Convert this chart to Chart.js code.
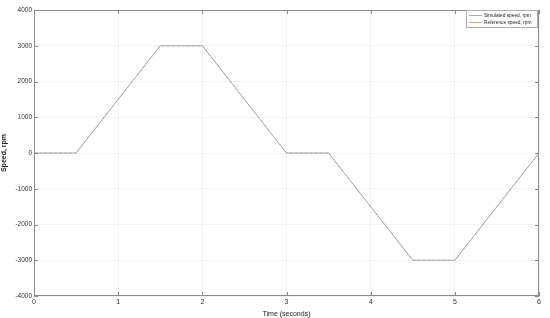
<!DOCTYPE html>
<html>
<head>
<meta charset="utf-8">
<script src="https://cdn.jsdelivr.net/npm/chart.js@4.4.0/dist/chart.umd.min.js"></script>
<style>
  html, body { margin: 0; padding: 0; background: #fff; }
  #wrap { width: 550px; height: 318px; position: relative; }
</style>
</head>
<body>
<div id="wrap"><canvas id="speedChart"></canvas></div>
<script>
// Speed profile, time in seconds vs rpm
const timeSec = [0, 0.5, 1.5, 2.0, 3.0, 3.5, 4.5, 5.0, 6.0];
const simulatedRpm = [0, 0, 3000, 3000, 0, 0, -3000, -3000, 0];
const referenceRpm = [0, 0, 3000, 3000, 0, 0, -3000, -3000, 0];
const seriesLabels = ['Simulated speed, rpm', 'Reference speed, rpm'];

const toPoints = (xs, ys) => xs.map((x, i) => ({ x: x, y: ys[i] }));

// box round the plot + little inward ticks, matlab style
const frame = {
    id: 'frame',
    afterDraw(chart) {
        const { ctx, chartArea: a, scales } = chart;
        ctx.save();
        ctx.strokeStyle = '#8a8a8a';
        ctx.lineWidth = 1;
        ctx.strokeRect(a.left + 0.5, a.top + 0.5, a.right - a.left - 1, a.bottom - a.top - 1);
        ctx.beginPath();
        scales.x.ticks.forEach(t => {
            const px = Math.round(scales.x.getPixelForValue(t.value)) + 0.5;
            ctx.moveTo(px, a.bottom); ctx.lineTo(px, a.bottom - 4);
            ctx.moveTo(px, a.top); ctx.lineTo(px, a.top + 4);
        });
        scales.y.ticks.forEach(t => {
            const py = Math.round(scales.y.getPixelForValue(t.value)) + 0.5;
            ctx.moveTo(a.left, py); ctx.lineTo(a.left + 4, py);
            ctx.moveTo(a.right, py); ctx.lineTo(a.right - 4, py);
        });
        ctx.stroke();

        // legend box in the top right corner
        const bx = 466, by = 10, bw = 71, bh = 17;
        ctx.fillStyle = '#fff';
        ctx.fillRect(bx, by, bw, bh);
        ctx.strokeStyle = '#b0b0b0';
        ctx.strokeRect(bx + 0.5, by + 0.5, bw, bh);
        ctx.font = '4.8px "Liberation Sans", Arial, sans-serif';
        ctx.textBaseline = 'middle';
        chart.data.datasets.forEach((ds, i) => {
            const ly = by + 5 + i * 7;
            ctx.strokeStyle = ds.borderColor;
            ctx.beginPath();
            ctx.moveTo(bx + 3, ly + 0.5); ctx.lineTo(bx + 16, ly + 0.5);
            ctx.stroke();
            ctx.fillStyle = '#222';
            ctx.fillText(ds.label, bx + 18, ly + 0.5);
        });
        ctx.restore();
    }
};

const ctx = document.getElementById('speedChart').getContext('2d');
const speedChart = new Chart(ctx, {
    type: 'scatter',
    data: {
        datasets: [
            {
                label: seriesLabels[0],
                data: toPoints(timeSec, simulatedRpm),
                showLine: true,
                borderColor: '#a4abc2',
                borderWidth: 1,
                pointRadius: 0,
            },
            {
                label: seriesLabels[1],
                data: toPoints(timeSec, referenceRpm),
                showLine: true,
                borderColor: '#c4b292',
                borderWidth: 1,
                borderDash: [3, 2],
                pointRadius: 0,
            }
        ]
    },
    options: {
        responsive: true,
        maintainAspectRatio: false,
        animation: false,
        layout: { padding: { top: 10, right: 11, left: 0, bottom: 0 } },
        plugins: {
            legend: { display: false },
            tooltip: { enabled: false }
        },
        scales: {
            x: {
                type: 'linear',
                min: 0,
                max: 6,
                afterFit: s => { s.height = 22; },
                ticks: {
                    stepSize: 1,
                    color: '#333',
                    padding: 2,
                    callback: v => String(v),
                    font: { size: 7, family: '"Liberation Sans", Arial, sans-serif' }
                },
                grid: { color: '#f2f2f2', drawTicks: false },
                border: { display: false },
                title: {
                    display: true,
                    text: 'Time (seconds)',
                    color: '#222',
                    padding: { top: 1, bottom: 0 },
                    font: { size: 7, family: '"Liberation Sans", Arial, sans-serif' }
                }
            },
            y: {
                type: 'linear',
                min: -4000,
                max: 4000,
                afterFit: s => { s.width = 34; },
                ticks: {
                    stepSize: 1000,
                    color: '#333',
                    padding: 2,
                    callback: v => String(v),
                    font: { size: 6.5, family: '"Liberation Sans", Arial, sans-serif' }
                },
                grid: { color: '#f2f2f2', drawTicks: false },
                border: { display: false },
                title: {
                    display: true,
                    text: 'Speed, rpm',
                    color: '#222',
                    padding: { top: 0, bottom: 2 },
                    font: { size: 7, weight: 'bold', family: '"Liberation Sans", Arial, sans-serif' }
                }
            }
        }
    },
    plugins: [frame]
});
</script>
</body>
</html>
